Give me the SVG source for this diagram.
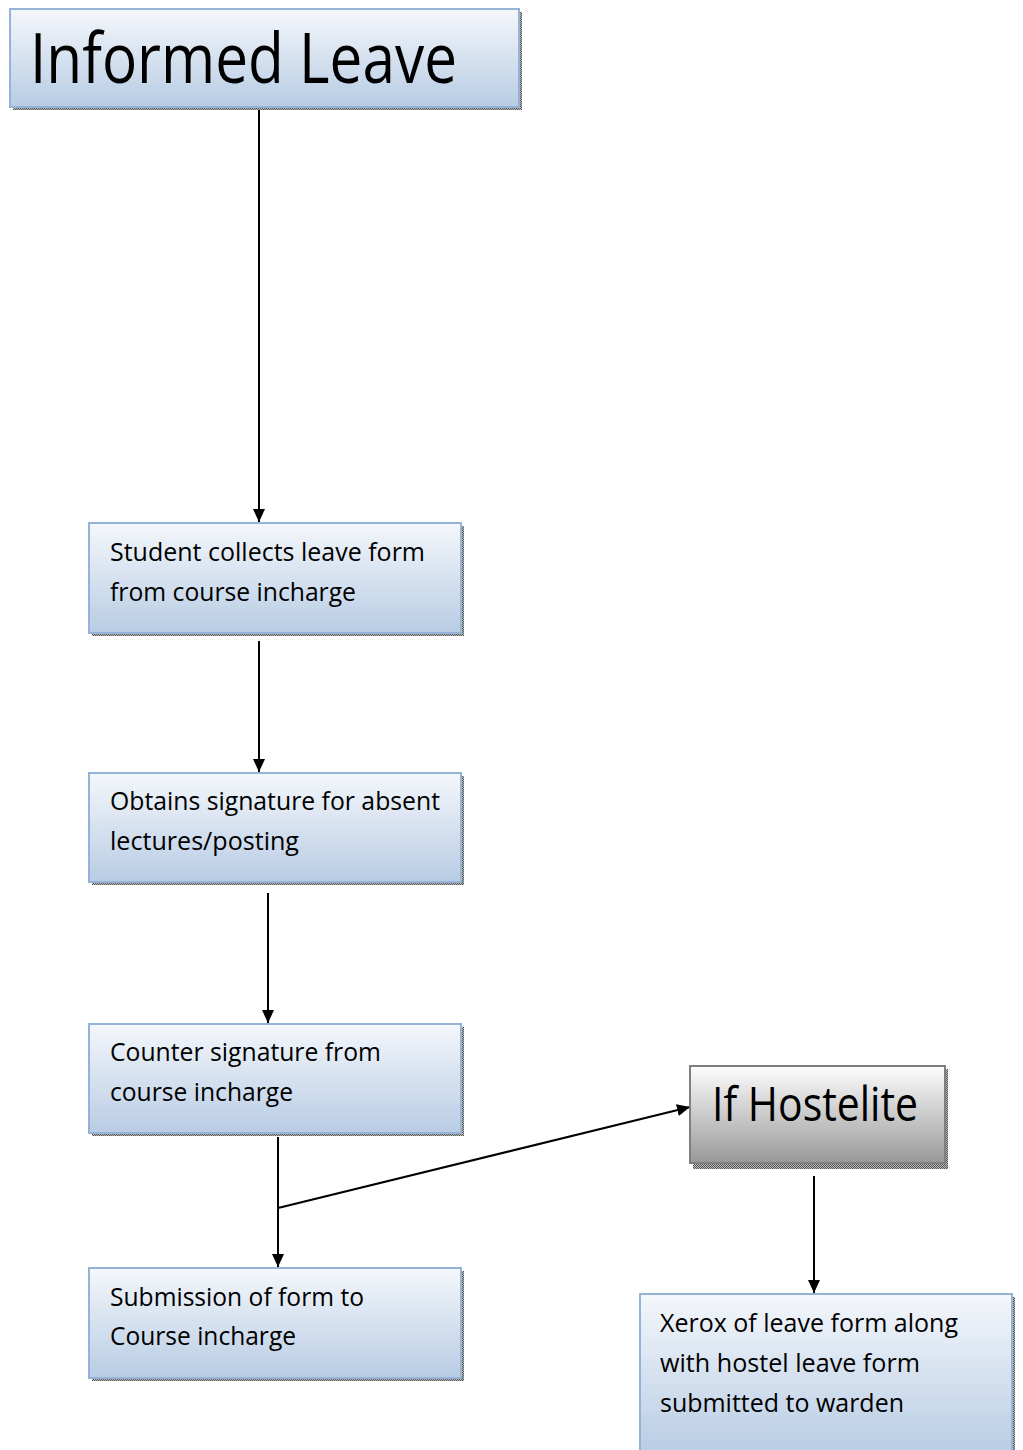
<svg xmlns="http://www.w3.org/2000/svg" width="1023" height="1450" viewBox="0 0 1023 1450">
<defs>
<linearGradient id="gb" x1="0" y1="0" x2="0" y2="1">
<stop offset="0" stop-color="#f4f7fb"/>
<stop offset="1" stop-color="#b8cce4"/>
</linearGradient>
<linearGradient id="gg" x1="0" y1="0" x2="0" y2="1">
<stop offset="0" stop-color="#fdfdfd"/>
<stop offset="1" stop-color="#999999"/>
</linearGradient>
<pattern id="dots" width="2" height="2" patternUnits="userSpaceOnUse">
<rect width="2" height="2" fill="#bbbbbb"/>
<rect width="1" height="1" fill="#555555"/>
<rect x="1" y="1" width="1" height="1" fill="#555555"/>
</pattern>
<marker id="ah" viewBox="0 0 13 12" refX="13" refY="6" markerWidth="13" markerHeight="12" markerUnits="userSpaceOnUse" orient="auto">
<path d="M0,0 L13,6 L0,12 Z" fill="#000"/>
</marker>
</defs>
<style>
.box{fill:url(#gb);stroke:#95b3d7;stroke-width:2}
.gbox{fill:url(#gg);stroke:#7f7f7f;stroke-width:2}
.sh{fill:url(#dots)}
.t{font-family:"Open Sans","Liberation Sans",sans-serif;fill:#000}
.s{font-size:26px}
.c{stroke:#000;stroke-width:2;fill:none}
</style>
<g id="connectors">
<line class="c" x1="259" y1="107" x2="259" y2="522" marker-end="url(#ah)"/>
<line class="c" x1="259" y1="641" x2="259" y2="772" marker-end="url(#ah)"/>
<line class="c" x1="268" y1="893" x2="268" y2="1023" marker-end="url(#ah)"/>
<line class="c" x1="278" y1="1137" x2="278" y2="1267" marker-end="url(#ah)"/>
<line class="c" x1="278" y1="1208" x2="690" y2="1107" marker-end="url(#ah)"/>
<line class="c" x1="814" y1="1176" x2="814" y2="1293" marker-end="url(#ah)"/>
</g>
<g id="n1">
<rect class="sh" x="13" y="12" width="509" height="98"/>
<rect class="box" x="10" y="9" width="509" height="98"/>
<text class="t" x="30" y="83" font-size="70" textLength="427" lengthAdjust="spacingAndGlyphs">Informed Leave</text>
</g>
<g id="n2">
<rect class="sh" x="92" y="526" width="372" height="110"/>
<rect class="box" x="89" y="523" width="372" height="110"/>
<text class="t s" x="110" y="561" textLength="315" lengthAdjust="spacingAndGlyphs">Student collects leave form</text>
<text class="t s" x="110" y="601" textLength="246" lengthAdjust="spacingAndGlyphs">from course incharge</text>
</g>
<g id="n3">
<rect class="sh" x="92" y="776" width="372" height="109"/>
<rect class="box" x="89" y="773" width="372" height="109"/>
<text class="t s" x="110" y="810" textLength="330" lengthAdjust="spacingAndGlyphs">Obtains signature for absent</text>
<text class="t s" x="110" y="850" textLength="189" lengthAdjust="spacingAndGlyphs">lectures/posting</text>
</g>
<g id="n4">
<rect class="sh" x="92" y="1027" width="372" height="109"/>
<rect class="box" x="89" y="1024" width="372" height="109"/>
<text class="t s" x="110" y="1061" textLength="271" lengthAdjust="spacingAndGlyphs">Counter signature from</text>
<text class="t s" x="110" y="1101" textLength="183" lengthAdjust="spacingAndGlyphs">course incharge</text>
</g>
<g id="n5">
<rect class="sh" x="92" y="1271" width="372" height="110"/>
<rect class="box" x="89" y="1268" width="372" height="110"/>
<text class="t s" x="110" y="1306" textLength="254" lengthAdjust="spacingAndGlyphs">Submission of form to</text>
<text class="t s" x="110" y="1345" textLength="186" lengthAdjust="spacingAndGlyphs">Course incharge</text>
</g>
<g id="n6">
<rect class="sh" x="693" y="1069" width="255" height="100"/>
<rect class="gbox" x="690" y="1066" width="255" height="97"/>
<text class="t" x="712" y="1121" font-size="48" textLength="206" lengthAdjust="spacingAndGlyphs">If Hostelite</text>
</g>
<g id="n7">
<rect class="sh" x="643" y="1297" width="372" height="160"/>
<rect class="box" x="640" y="1294" width="372" height="160"/>
<text class="t s" x="660" y="1332" textLength="298" lengthAdjust="spacingAndGlyphs">Xerox of leave form along</text>
<text class="t s" x="660" y="1372" textLength="260" lengthAdjust="spacingAndGlyphs">with hostel leave form</text>
<text class="t s" x="660" y="1412" textLength="244" lengthAdjust="spacingAndGlyphs">submitted to warden</text>
</g>
</svg>
